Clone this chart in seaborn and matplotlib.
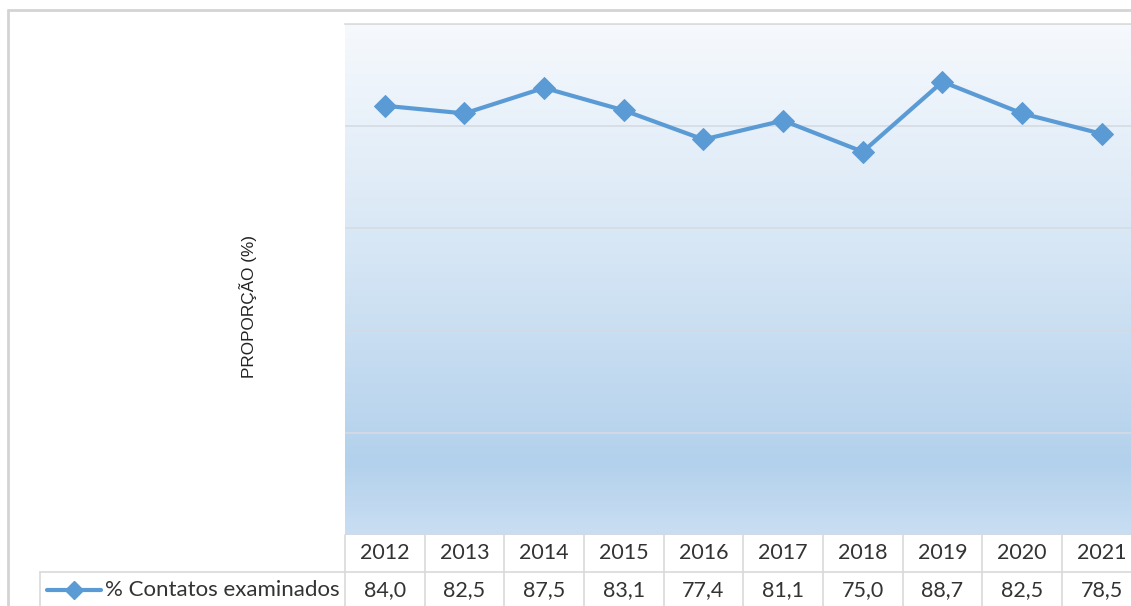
import numpy as np
import pandas as pd
import matplotlib
matplotlib.use("Agg")
import matplotlib.pyplot as plt
import matplotlib.transforms as mtransforms
from matplotlib.colors import LinearSegmentedColormap
from matplotlib.lines import Line2D
import seaborn as sns

# Data
years = ["2012", "2013", "2014", "2015", "2016", "2017", "2018", "2019", "2020", "2021"]
contatos = [84.0, 82.5, 87.5, 83.1, 77.4, 81.1, 75.0, 88.7, 82.5, 78.5]
series_label = "% Contatos examinados"
y_label = "PROPORÇÃO (%)"
value_labels = ["84,0", "82,5", "87,5", "83,1", "77,4", "81,1", "75,0", "88,7", "82,5", "78,5"]

sns.set_theme(style="white")
plt.rcParams["font.family"] = ["Lato", "DejaVu Sans"]

W, H = 1131, 606
fig = plt.figure(figsize=(W / 100, H / 100), dpi=100)

# Plot area (extends slightly past the right edge of the figure)
px_left, px_right, px_top, px_bottom = 345, 1141.6, 24, 535
ax = fig.add_axes([px_left / W, 1 - px_bottom / H,
                   (px_right - px_left) / W, (px_bottom - px_top) / H])

# Background gradient of the plot area (light at the top, blue towards the bottom)
grad_cmap = LinearSegmentedColormap.from_list(
    "bg", [(0.0, "#f6f9fd"), (0.45, "#d6e6f5"), (0.86, "#b3d1ec"), (1.0, "#c9def2")])
grad = np.linspace(0, 1, 256).reshape(-1, 1)
ax.imshow(grad, cmap=grad_cmap, aspect="auto", extent=[0, 1, 0, 1], origin="upper",
          transform=ax.transAxes, zorder=0, interpolation="bilinear")

df = pd.DataFrame({"ano": np.arange(len(years)), "valor": contatos})
line_color = "#5b9bd5"
sns.lineplot(data=df, x="ano", y="valor", ax=ax, color=line_color, linewidth=3,
             marker="D", markersize=11, markeredgecolor=line_color, zorder=3)

ax.set_xlim(-0.5, len(years) - 0.5)
ax.set_ylim(0, 100)
ax.set_yticks([0, 20, 40, 60, 80, 100])
ax.yaxis.grid(True, color="#d5dbe3", linewidth=1.2, zorder=1)
ax.set_axisbelow(True)
ax.tick_params(left=False, bottom=False, labelleft=False, labelbottom=False)
ax.set_xlabel("")
ax.set_ylabel("")
for s in ["left", "right", "bottom"]:
    ax.spines[s].set_visible(False)
ax.spines["top"].set_color("#dcdcdc")
ax.spines["top"].set_linewidth(1.2)

# Y axis title
fig.text(248 / W, 1 - 307 / H, y_label, rotation=90, ha="center", va="center",
         fontsize=12.3, color="#222222", family=["Liberation Sans", "DejaVu Sans"])

# Data table under the plot
tr = mtransforms.blended_transform_factory(ax.transData, fig.transFigure)
def fy(py):
    return 1 - py / H

row1_top, row_sep, row2_bot = 535, 572, 620
grid_c = "#d9d9d9"
text_c = "#333333"
for i in range(len(years) + 1):
    ax.add_line(Line2D([i - 0.5, i - 0.5], [fy(row1_top), fy(row2_bot)], transform=tr,
                       color=grid_c, linewidth=1.2, clip_on=False))
for i, (yr, v) in enumerate(zip(years, value_labels)):
    ax.text(i, fy(553), yr, transform=tr, ha="center", va="center",
            fontsize=15.5, color=text_c, clip_on=False)
    ax.text(i, fy(590), v, transform=tr, ha="center", va="center",
            fontsize=15.5, color=text_c, clip_on=False)

# Horizontal row separator and legend cell border
fig.add_artist(Line2D([40 / W, 1.0], [fy(row_sep), fy(row_sep)], color=grid_c, linewidth=1.2))
fig.add_artist(Line2D([40 / W, 40 / W], [fy(row_sep), fy(row2_bot)], color=grid_c, linewidth=1.2))

# Legend key inside the table
fig.add_artist(Line2D([47 / W, 101 / W], [fy(590), fy(590)], color=line_color, linewidth=3))
fig.add_artist(Line2D([74 / W], [fy(590)], marker="D", markersize=9, color=line_color,
                      markeredgecolor=line_color, linestyle="none"))
fig.text(105 / W, fy(590), series_label, ha="left", va="center", fontsize=16, color=text_c)

# Outer chart border
fig.add_artist(Line2D([8 / W, 1.0], [fy(10), fy(10)], color="#d4d4d4", linewidth=2))
fig.add_artist(Line2D([8 / W, 8 / W], [fy(10), 0.0], color="#d4d4d4", linewidth=2))

fig.savefig("out.png", dpi=100, facecolor="white")
